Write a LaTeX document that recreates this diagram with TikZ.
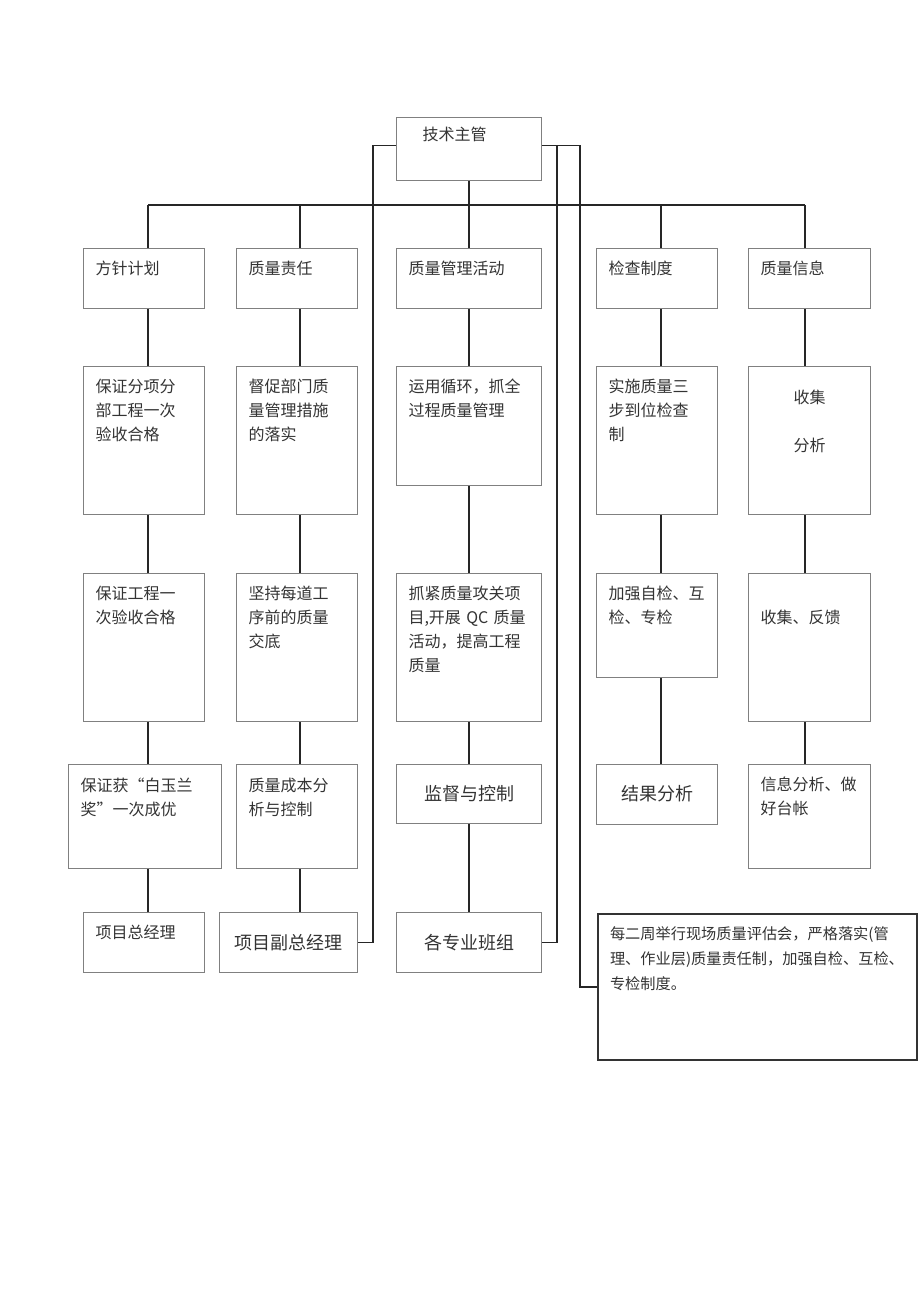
\documentclass[tikz,border=0pt]{standalone}
\usepackage{fontspec}
\newfontfamily\cjk{Noto Sans CJK SC}

\begin{document}
\begin{tikzpicture}[x=0.5pt,y=-0.5pt,
  cell/.style={draw=black!50, line width=0.5pt, anchor=north west, align=left,
    inner xsep=6pt, inner ysep=0pt, text=black!80, font=\cjk\fontsize{8}{12}\selectfont},
  dims/.style n args={3}{text width=#1, text height=#2, text depth=#3},
  big/.style={align=center, font=\cjk\fontsize{9}{12}\selectfont},
  link/.style={black!85, line width=0.75pt}]
\useasboundingbox (0,0) rectangle (920,1301);

% head
\node[cell, inner xsep=13pt, dims={46.5pt}{11.5pt}{20pt}] (head) at (396,117) {技术主管};

% row 1
\node[cell, dims={48.5pt}{13pt}{17pt}] (plan1) at (83,248) {方针计划};
\node[cell, dims={48.5pt}{13pt}{17pt}] (duty1) at (236,248) {质量责任};
\node[cell, dims={60.5pt}{13pt}{17pt}] (act1) at (396,248) {质量管理活动};
\node[cell, dims={48.5pt}{13pt}{17pt}] (check1) at (596,248) {检查制度};
\node[cell, dims={49pt}{13pt}{17pt}] (info1) at (748,248) {质量信息};

% row 2
\node[cell, dims={48.5pt}{13pt}{61pt}] (plan2) at (83,366) {保证分项分\\部工程一次\\验收合格};
\node[cell, dims={48.5pt}{13pt}{61pt}] (duty2) at (236,366) {督促部门质\\量管理措施\\的落实};
\node[cell, dims={60.5pt}{13pt}{46.5pt}] (act2) at (396,366) {运用循环，抓全\\过程质量管理};
\node[cell, dims={48.5pt}{13pt}{61pt}] (check2) at (596,366) {实施质量三\\步到位检查\\制};
\node[cell, align=center, dims={49pt}{18.5pt}{55.5pt}] (info2) at (748,366) {收集\\[12pt]分析};

% row 3
\node[cell, dims={48.5pt}{13pt}{61pt}] (plan3) at (83,573) {保证工程一\\次验收合格};
\node[cell, dims={48.5pt}{13pt}{61pt}] (duty3) at (236,573) {坚持每道工\\序前的质量\\交底};
\node[cell, dims={60.5pt}{13pt}{61pt}] (act3) at (396,573) {抓紧质量攻关项\\目,开展 QC 质量\\活动，提高工程\\质量};
\node[cell, dims={48.5pt}{13pt}{39pt}] (check3) at (596,573) {加强自检、互\\检、专检};
\node[cell, dims={49pt}{25pt}{49pt}] (info3) at (748,573) {收集、反馈};

% row 4
\node[cell, dims={64.5pt}{13.5pt}{38.5pt}] (plan4) at (68,764) {保证获“白玉兰\\奖”一次成优};
\node[cell, dims={48.5pt}{13.5pt}{38.5pt}] (duty4) at (236,764) {质量成本分\\析与控制};
\node[cell, big, dims={60.5pt}{18pt}{11.5pt}] (act4) at (396,764) {监督与控制};
\node[cell, big, dims={48.5pt}{18pt}{12pt}] (check4) at (596,764) {结果分析};
\node[cell, dims={49pt}{13pt}{39pt}] (info4) at (748,764) {信息分析、做\\好台帐};

% row 5
\node[cell, dims={48.5pt}{13pt}{17pt}] (plan5) at (83,912) {项目总经理};
\node[cell, big, dims={57pt}{18.5pt}{11.5pt}] (duty5) at (219,912) {项目副总经理};
\node[cell, big, dims={60.5pt}{18.5pt}{11.5pt}] (act5) at (396,912) {各专业班组};
\node[cell, draw=black!80, line width=1pt, font=\cjk\fontsize{7.6}{12.5}\selectfont,
  dims={147.5pt}{12.5pt}{60.5pt}] (note) at (597,913)
  {每二周举行现场质量评估会，严格落实(管\\理、作业层)质量责任制，加强自检、互检、\\专检制度。};

% bus
\coordinate (c1) at (148,205);
\coordinate (c2) at (300,205);
\coordinate (c4) at (661,205);
\coordinate (c5) at (805,205);
\draw[link] (c1) -- (c5);
\draw[link] (head.south) -- (head.south |- c1);
\draw[link] (c1) -- (plan1.north -| c1);
\draw[link] (c2) -- (duty1.north -| c2);
\draw[link] (head.south |- c1) -- (act1.north);
\draw[link] (c4) -- (check1.north -| c4);
\draw[link] (c5) -- (info1.north -| c5);

% columns
\draw[link] (plan1.south -| c1) -- (plan2.north -| c1);
\draw[link] (plan2.south -| c1) -- (plan3.north -| c1);
\draw[link] (plan3.south -| c1) -- (plan4.north -| c1);
\draw[link] (plan4.south -| c1) -- (plan5.north -| c1);

\draw[link] (duty1.south -| c2) -- (duty2.north -| c2);
\draw[link] (duty2.south -| c2) -- (duty3.north -| c2);
\draw[link] (duty3.south -| c2) -- (duty4.north -| c2);
\draw[link] (duty4.south -| c2) -- (duty5.north -| c2);

\draw[link] (act1.south) -- (act2.north);
\draw[link] (act2.south) -- (act3.north);
\draw[link] (act3.south) -- (act4.north);
\draw[link] (act4.south) -- (act5.north);

\draw[link] (check1.south -| c4) -- (check2.north -| c4);
\draw[link] (check2.south -| c4) -- (check3.north -| c4);
\draw[link] (check3.south -| c4) -- (check4.north -| c4);

\draw[link] (info1.south -| c5) -- (info2.north -| c5);
\draw[link] (info2.south -| c5) -- (info3.north -| c5);
\draw[link] (info3.south -| c5) -- (info4.north -| c5);

% side lines
\coordinate (lx) at (373,500);
\coordinate (rx1) at (557,500);
\coordinate (rx2) at (580,500);
\draw[link] ([yshift=1.75pt]head.west) -| (lx) |- (duty5.east);
\draw[link] ([yshift=1.75pt]head.east) -| (rx1) |- (act5.east);
\draw[link] ([yshift=1.75pt]head.east) -| (rx2) |- (note.west);
\end{tikzpicture}
\end{document}
